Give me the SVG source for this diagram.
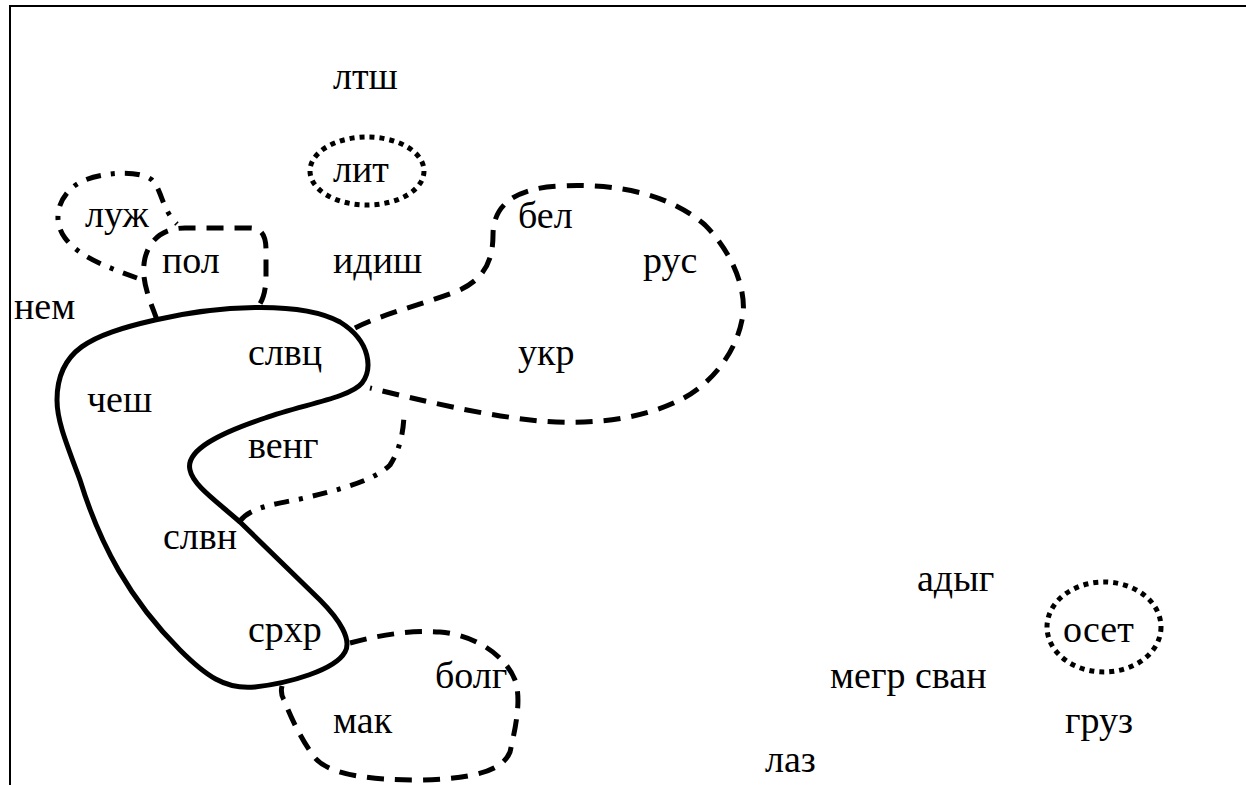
<svg xmlns="http://www.w3.org/2000/svg" width="1246" height="785" viewBox="0 0 1246 785">
<style>
text{font-family:"Liberation Serif","DejaVu Serif","Times New Roman",serif;font-size:38px;fill:#000}
.solid{fill:none;stroke:#000;stroke-width:5;stroke-linejoin:round}
.dash{fill:none;stroke:#000;stroke-width:5;stroke-dasharray:17 11}
.dashdot{fill:none;stroke:#000;stroke-width:5;stroke-dasharray:15 10 4 10}
.dot{fill:none;stroke:#000;stroke-width:5;stroke-dasharray:5 5}
.frame{fill:none;stroke:#000;stroke-width:2}
</style>
<rect width="1246" height="785" fill="#fff"/>
<path class="frame" d="M10,785 V6 H1246"/>
<g id="nodes">
<g id="n-ltsh"><text x="333" y="89">лтш</text></g>
<g id="n-lit"><ellipse class="dot" cx="367" cy="171" rx="57" ry="34"/><text x="333" y="182">лит</text></g>
<g id="n-luzh"><text x="85" y="227">луж</text></g>
<g id="n-pol"><text x="162" y="273">пол</text></g>
<g id="n-idish"><text x="333" y="273">идиш</text></g>
<g id="n-nem"><text x="14" y="319">нем</text></g>
<g id="n-slvc"><text x="248" y="365">слвц</text></g>
<g id="n-chesh"><text x="87" y="412">чеш</text></g>
<g id="n-veng"><text x="248" y="458">венг</text></g>
<g id="n-slvn"><text x="163" y="549">слвн</text></g>
<g id="n-srhr"><text x="248" y="642">срхр</text></g>
<g id="n-bel"><text x="518" y="228">бел</text></g>
<g id="n-rus"><text x="643" y="273">рус</text></g>
<g id="n-ukr"><text x="518" y="365">укр</text></g>
<g id="n-bolg"><text x="435" y="688">болг</text></g>
<g id="n-mak"><text x="333" y="733">мак</text></g>
<g id="n-adyg"><text x="917" y="591">адыг</text></g>
<g id="n-oset"><ellipse class="dot" cx="1104" cy="627" rx="57" ry="45"/><text x="1063" y="642">осет</text></g>
<g id="n-megr"><text x="830" y="688">мегр сван</text></g>
<g id="n-gruz"><text x="1065" y="733">груз</text></g>
<g id="n-laz"><text x="765" y="772">лаз</text></g>
</g>
<g id="connectors">
<path class="solid" d="M57,400 C57,350 90,335 155,320 C215,306 300,300 340,322 C372,342 372,370 362,383 C350,398 300,405 265,418 C220,433 185,450 190,470 C193,485 215,500 240,522 L320,600 C340,620 352,640 345,652 C335,670 290,683 255,687 C225,690 205,675 180,650 C130,600 100,545 80,480 C65,440 57,420 57,400 Z"/>
<path class="dash" d="M157,320 C150,300 140,280 145,258 C150,238 165,228 185,228 L250,228 C262,228 266,236 266,250 L266,280 C265,295 262,302 257,308"/>
<path class="dashdot" d="M137,278 C110,268 80,258 65,238 C50,218 60,190 85,180 C105,172 140,170 152,180 C162,190 162,210 177,224"/>
<path class="dash" d="M355,328 C380,315 420,305 455,292 C485,280 493,260 493,235 C493,205 515,188 560,186 C620,183 670,195 705,225 C735,255 748,295 742,320 C735,355 710,385 680,400 C640,420 590,425 540,421 C480,415 420,400 370,388"/>
<path class="dashdot" d="M240,521 C250,508 270,505 300,499 C340,490 375,480 390,465 C400,450 404,430 404,412"/>
<path class="dash" d="M350,643 C380,635 410,630 440,632 C475,635 505,655 515,680 C522,700 515,730 510,752 C502,772 470,779 420,780 C370,780 330,775 315,758 C300,738 290,715 284,700 C281,695 281,690 282,686"/>
</g>
</svg>
